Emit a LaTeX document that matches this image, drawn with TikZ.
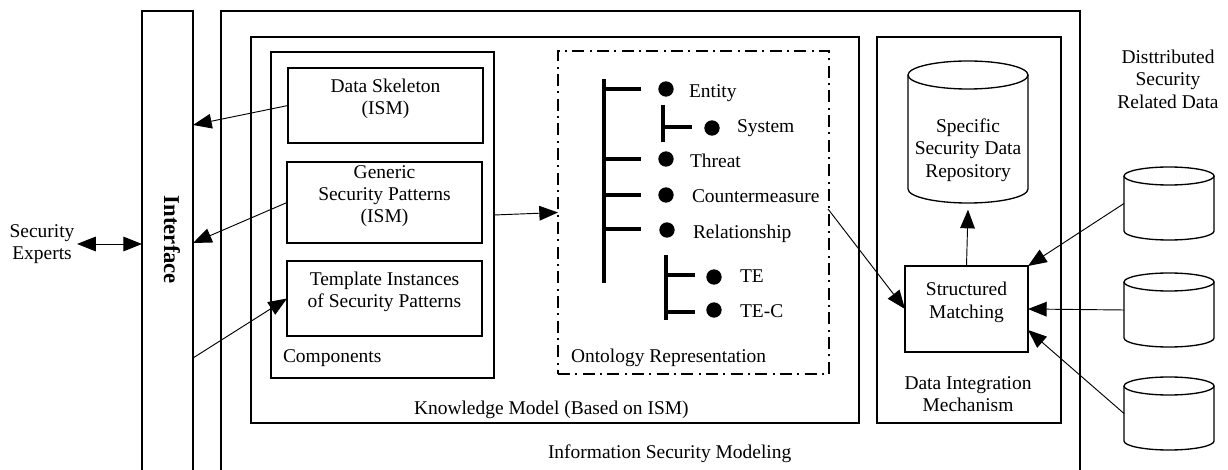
\documentclass[tikz,border=0pt]{standalone}
\usepackage{fontspec}
\setmainfont{Liberation Serif}
\usetikzlibrary{arrows.meta,fit,calc}
\newcommand\drawcyl[5]{%
  \draw[cylline] (#1,#3+#5) -- (#1,#4-#5)
    arc[start angle=180,end angle=360,x radius={(#2-#1)/2*0.75pt},y radius={#5*0.75pt}]
    -- (#2,#3+#5);
  \draw[cylline] ({(#1+#2)/2},#3+#5) ellipse[x radius={(#2-#1)/2*0.75pt},y radius={#5*0.75pt}];
}
\begin{document}
\begin{tikzpicture}[x=0.75pt,y=-0.75pt,
  every node/.style={font=\fontsize{14.6pt}{16.8pt}\selectfont, inner sep=0pt, outer sep=0pt},
  box/.style={draw, line width=1pt, inner sep=0pt, align=center},
  ghost/.style={inner sep=0pt},
  arr/.style={line width=0.7pt, -{Triangle[length=14pt,width=11pt]}},
  darr/.style={line width=0.7pt, {Triangle[length=14pt,width=11pt]}-{Triangle[length=14pt,width=11pt]}},
  treeline/.style={line width=2.8pt},
  dot/.style={circle, fill, minimum size=11.5pt, inner sep=0pt},
  lbl/.style={anchor=base west},
  dashdotbox/.style={draw, line width=2pt, dash pattern=on 9pt off 4pt on 1.5pt off 4pt},
  cylline/.style={draw, line width=1pt}
]
\useasboundingbox (0,0) rectangle (1228,470);
\clip (0,0) rectangle (1228,470);

% outer boxes
\node[box, fit={(142,11)(193,480)}] (iface) {};
\node[rotate=-90, font=\bfseries\fontsize{17pt}{20pt}\selectfont] (ifl) at (172,240) {Interface};
\node[box, fit={(221,11)(1080,480)}] (ism) {};
\node[lbl] (ismlbl) at (548,458) {Information Security Modeling};

\node[box, fit={(251,37)(859,423)}] (km) {};
\node[lbl] (kmlbl) at (414,414) {Knowledge Model (Based on ISM)};

\node[box, fit={(271,52)(494,378)}] (comp) {};
\node[lbl] (complbl) at (283,362) {Components};

\node[box, fit={(288,68)(483,143)}] (ds) {Data Skeleton\\(ISM)};
\node[box, fit={(287,162)(482,243)}] (gsp) {Generic\\Security Patterns\\(ISM)};
\node[box, fit={(287,261)(482,336)}] (tip) {Template Instances\\of Security Patterns};

% ontology
\node[dashdotbox, inner sep=0pt, fit={(558,51)(829,374)}] (onto) {};
\node[lbl] (ontolbl) at (571,362) {Ontology Representation};

\draw[treeline] (604,79) -- (604,283);
\foreach \yy in {89,159,195,229} \draw[treeline] (604,\yy) -- (641,\yy);
\draw[treeline] (663,105) -- (663,142);
\draw[treeline] (663,127) -- (692,127);
\draw[treeline] (666,255) -- (666,320);
\draw[treeline] (666,275) -- (695,275);
\draw[treeline] (666,312) -- (695,312);

\node[dot] (d1) at (666,89) {};
\node[dot] (d2) at (712,128) {};
\node[dot] (d3) at (666,159) {};
\node[dot] (d4) at (666,195) {};
\node[dot] (d5) at (667,230) {};
\node[dot] (d6) at (714,277) {};
\node[dot] (d7) at (714,310) {};

\node[lbl] (ent) at (689,98) {Entity};
\node[lbl] (sys) at (737,133) {System};
\node[lbl] (thr) at (690,168) {Threat};
\node[lbl] (cm) at (692,203) {Countermeasure};
\node[lbl] (rel) at (693,239) {Relationship};
\node[lbl] (te) at (740,283) {TE};
\node[lbl] (tec) at (740,318) {TE-C};

% data integration
\node[box, fit={(877,37)(1061,423)}] (dim) {};
\node[align=center] (dimlbl) at (968,394) {Data Integration\\Mechanism};

\node[ghost, fit={(908,61)(1028,203)}] (repo) {};
\drawcyl{908}{1028}{61}{203}{14}
\node[align=center] (repolbl) at (968,150) {Specific\\Security Data\\Repository};

\node[box, fit={(905,266)(1028,352)}] (sm) {Structured\\Matching};

\node[align=center] (dist) at (1168,79) {Disttributed\\Security\\Related Data};

\node[ghost, fit={(1124,167)(1214,240)}] (c1) {};
\drawcyl{1124}{1214}{167}{240}{9}
\node[ghost, fit={(1124,273)(1214,347)}] (c2) {};
\drawcyl{1124}{1214}{273}{347}{9}
\node[ghost, fit={(1124,377)(1214,450)}] (c3) {};
\drawcyl{1124}{1214}{377}{450}{9}

\node[align=center] (se) at (42,244) {Security\\Experts};

% connectors
\coordinate (if1) at (193,125);
\coordinate (if2) at (193,243);
\coordinate (if3) at (193,358);
\coordinate (cmend) at (828,209);

\draw[darr] ([xshift=2pt]se.east) -- (iface.west |- se.east);
\draw[arr] (ds.west) -- (if1);
\draw[arr] (gsp.west) -- (if2);
\draw[arr] (if3) -- (tip.west);
\draw[arr] (comp.east) -- (onto.west);
\draw[arr] (cmend) -- (sm.west);
\draw[arr] (sm.north) -- ([yshift=-5pt]repo.south);
\draw[arr] (c1.west) -- (sm.north east);
\draw[arr] (c2.west) -- (sm.east);
\draw[arr] (c3.west) -- ($(sm.east)+(0,21)$);
\end{tikzpicture}
\end{document}
